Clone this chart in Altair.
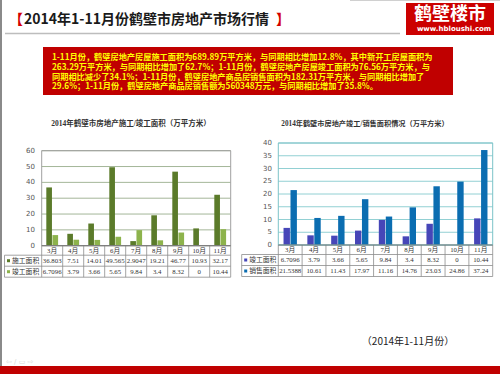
import altair as alt
import pandas as pd

# ---------------- data ----------------
months = ["3月", "4月", "5月", "6月", "7月", "8月", "9月", "10月", "11月"]
left_series = ["施工面积", "竣工面积"]
right_series = ["竣工面积", "销售面积"]
construction = [36.803, 7.51, 14.01, 49.565, 2.9047, 19.21, 46.77, 10.93, 32.17]
completed = [6.7096, 3.79, 3.66, 5.65, 9.84, 3.4, 8.32, 0, 10.44]
sales = [21.5388, 10.61, 11.43, 17.97, 11.16, 14.76, 23.03, 24.86, 37.24]
left_ticks = [0, 10, 20, 30, 40, 50, 60]
right_ticks = [0, 5, 10, 15, 20, 25, 30, 35, 40]

page_title = "2014年1-11月份鹤壁市房地产市场行情"
logo_name = "鹤壁楼市"
logo_url = "www.hbloushi.com"
summary_lines = [
    "1-11月份，鹤壁房地产房屋施工面积为689.89万平方米，与同期相比增加12.8%，其中新开工房屋面积为",
    "263.29万平方米，与同期相比增加了62.7%；1-11月份，鹤壁房地产房屋竣工面积为76.56万平方米，与",
    "同期相比减少了34.1%；1-11月份，鹤壁房地产商品房销售面积为182.31万平方米，与同期相比增加了",
    "29.6%；1-11月份，鹤壁房地产商品房销售额为560348万元，与同期相比增加了35.8%。",
]
left_title = "2014年鹤壁市房地产施工/竣工面积（万平方米）"
right_title = "2014年鹤壁市房地产竣工/销售面积情况（万平方米）"
footer_text = "（2014年1-11月份）"

# ---------------- tables ----------------
left_df = pd.DataFrame({
    "month": months * 2,
    "series": [left_series[0]] * len(months) + [left_series[1]] * len(months),
    "value": construction + completed,
    "label": [str(v) for v in construction + completed],
})
right_df = pd.DataFrame({
    "month": months * 2,
    "series": [right_series[0]] * len(months) + [right_series[1]] * len(months),
    "value": completed + sales,
    "label": [str(v) for v in completed + sales],
})
left_tick_df = pd.DataFrame({"t": left_ticks})
right_tick_df = pd.DataFrame({"t": right_ticks})
month_df = pd.DataFrame({"month": months})
left_ser_df = pd.DataFrame({"series": left_series})
right_ser_df = pd.DataFrame({"series": right_series})
one = pd.DataFrame({"d": [0]})

CJK = "Noto Sans CJK SC"
SERIF = "Liberation Serif, Noto Sans CJK SC"


def box(x, x2, y, y2, **kw):
    return alt.Chart(one).mark_rect(**kw).encode(
        x=alt.value(x), x2=alt.value(x2), y=alt.value(y), y2=alt.value(y2))


def txt(x, y, text, **kw):
    return alt.Chart(one).mark_text(**kw).encode(
        x=alt.value(x), y=alt.value(y), text=alt.value(text))


def hline(x, x2, y, **kw):
    return alt.Chart(one).mark_rule(**kw).encode(
        x=alt.value(x), x2=alt.value(x2), y=alt.value(y))


def vline(x, y, y2, **kw):
    return alt.Chart(one).mark_rule(**kw).encode(
        x=alt.value(x), y=alt.value(y), y2=alt.value(y2))


def panel(df, tick_df, ser_df, series, colors, x0, x1, ytop, ybot, ymax,
          lab_x, col_x, grid_col, frame_col, table_col):
    xs = alt.Scale(type="band", domain=months, range=[x0, x1],
                   paddingInner=0, paddingOuter=0)
    ys = alt.Scale(domain=[0, ymax], range=[ybot, ytop], nice=False, zero=True)
    cs = alt.Scale(domain=series, range=colors)
    rows = alt.Scale(type="band", domain=series, range=[ybot + 9.5, ybot + 31.5],
                     paddingInner=0, paddingOuter=0)
    X = alt.X("month:N", scale=xs, axis=None)
    layers = []
    layers.append(alt.Chart(tick_df).mark_rule(color=grid_col, strokeWidth=1).encode(
        y=alt.Y("t:Q", scale=ys, axis=None), x=alt.value(x0), x2=alt.value(x1)))
    layers.append(alt.Chart(tick_df).mark_text(
        align="right", baseline="middle", fontSize=7, font="DejaVu Sans", color="#555555"
    ).encode(y=alt.Y("t:Q", scale=ys, axis=None), x=alt.value(lab_x), text="t:Q"))
    layers.append(alt.Chart(df).mark_bar().encode(
        x=X,
        xOffset=alt.XOffset("series:N", scale=alt.Scale(domain=series, paddingInner=0.08,
                                                        paddingOuter=0.75)),
        y=alt.Y("value:Q", scale=ys, axis=None),
        color=alt.Color("series:N", scale=cs, legend=None),
    ))
    layers.append(box(x0, x1, ytop, ybot, fill=None, stroke=frame_col, strokeWidth=1))
    layers.append(alt.Chart(month_df).mark_rule(color=table_col, strokeWidth=0.8).encode(
        x=alt.X("month:N", scale=xs, axis=None, bandPosition=0),
        y=alt.value(ybot), y2=alt.value(ybot + 31.5)))
    layers.append(vline(x1, ybot, ybot + 31.5, color=table_col, strokeWidth=0.8))
    layers.append(vline(col_x, ybot + 9.5, ybot + 31.5, color=table_col, strokeWidth=0.8))
    for yy in (ybot + 9.5, ybot + 20.5, ybot + 31.5):
        layers.append(hline(col_x, x1, yy, color=table_col, strokeWidth=0.8))
    layers.append(hline(x0, x1, ybot, color="#777777", strokeWidth=1))
    layers.append(alt.Chart(month_df).mark_text(
        fontSize=6.8, font=SERIF, color="#333333", baseline="middle"
    ).encode(x=X, y=alt.value(ybot + 4.8), text="month:N"))
    layers.append(alt.Chart(df).mark_text(
        fontSize=6.8, font=SERIF, color="#333333", baseline="middle"
    ).encode(x=X, y=alt.Y("series:N", scale=rows, axis=None), text="label:N"))
    layers.append(alt.Chart(ser_df).mark_square(size=9, opacity=1).encode(
        x=alt.value(col_x + 4),
        y=alt.Y("series:N", scale=rows, axis=None),
        color=alt.Color("series:N", scale=cs, legend=None)))
    layers.append(alt.Chart(ser_df).mark_text(
        fontSize=6.8, font=SERIF, color="#333333", align="left", baseline="middle"
    ).encode(x=alt.value(col_x + 7.5), y=alt.Y("series:N", scale=rows, axis=None),
             text="series:N"))
    return layers


layers = []
layers.append(vline(1, 0, 366, color="#8A8A8A", strokeWidth=2))
layers.append(hline(350, 500, 0.5, color="#D0D0D0", strokeWidth=1))
# title
layers.append(txt(9, 20, "【", font=CJK, fontSize=14, fontWeight="bold", color="#D40000", align="left", baseline="middle"))
layers.append(txt(24, 20, page_title, font=CJK, fontSize=14, fontWeight="bold", color="#1A1A1A", align="left", baseline="middle"))
layers.append(txt(276, 20, "】", font=CJK, fontSize=14, fontWeight="bold", color="#D40000", align="left", baseline="middle"))
layers.append(hline(5, 400, 33.5, color="#BDBDBD", strokeWidth=1.5))
# logo
layers.append(box(406, 494, 3, 35, fill="#CC0000"))
layers.append(txt(450, 15, logo_name, font=CJK, fontSize=18, fontWeight="bold", color="white", baseline="middle"))
layers.append(txt(454, 29, logo_url, font="DejaVu Sans", fontSize=7, fontWeight="bold", color="white", baseline="middle"))
# summary box
layers.append(box(43, 453, 47, 95, fill="#C00000"))
for i, line in enumerate(summary_lines):
    layers.append(txt(52, 58 + i * 9.75, line, font=CJK, fontSize=8.2, fontWeight="bold",
                      color="#FFFF00", align="left", baseline="middle"))
# chart titles
layers.append(txt(131, 124, left_title, font=SERIF, fontSize=7.5, fontWeight="bold", color="#333333", baseline="middle"))
layers.append(txt(365, 124, right_title, font=SERIF, fontSize=7.2, fontWeight="bold", color="#333333", baseline="middle"))

layers += panel(left_df, left_tick_df, left_ser_df, left_series, ["#5B7B2A", "#8DB34C"],
                41.7, 230.7, 150.7, 245.7, 60, 35, 4.5,
                "#A4B698", "#A0A0A0", "#8C8C8C")
layers += panel(right_df, right_tick_df, right_ser_df, right_series, ["#4646B8", "#0B6DB1"],
                278.3, 492.7, 143, 245, 40, 272, 241.7,
                "#92D0D3", "#7CC3C8", "#8C8C8C")

# footer
layers.append(txt(408, 342, footer_text, font=CJK, fontSize=10, color="#222222", baseline="middle"))
layers.append(txt(6, 362, "⇦  ∕  ▭  ⇨", font="DejaVu Sans", fontSize=7, color="#D8D8D8", align="left", baseline="middle"))
layers.append(box(0, 500, 366, 374, fill="#C00000"))

chart = alt.layer(*layers).resolve_scale(
    x="independent", y="independent", color="independent", xOffset="independent"
).properties(
    width=500, height=374, autosize=alt.AutoSizeParams(type="none"), padding=0,
    background="white"
).configure_view(stroke=None)

chart.save("out.html", embed_options={"renderer": "svg", "actions": False})
